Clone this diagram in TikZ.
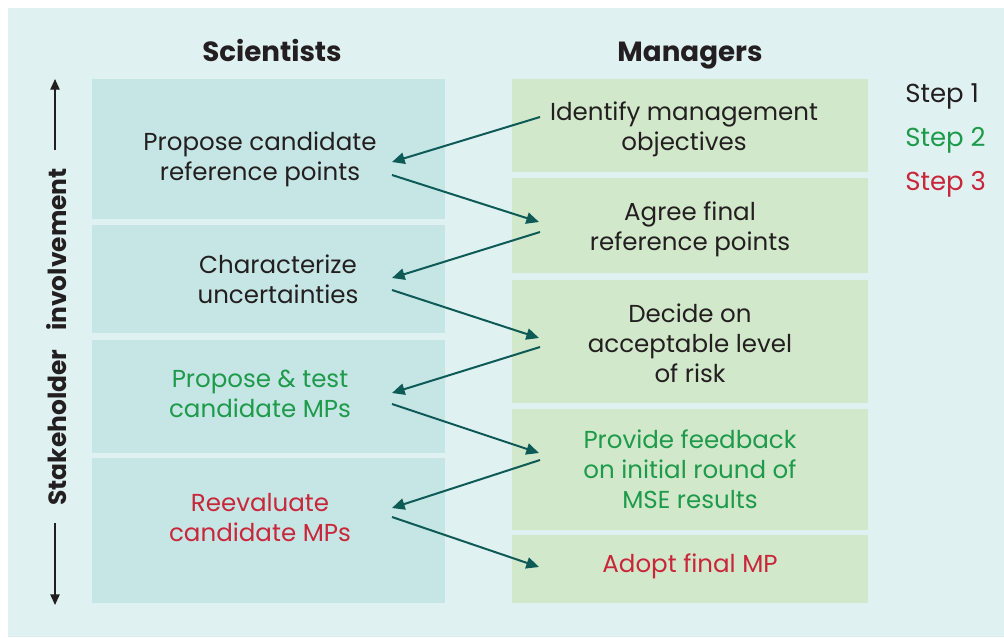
\documentclass[tikz,border=0pt]{standalone}
\usepackage{fontspec}
\setmainfont{Poppins}
\usetikzlibrary{arrows.meta}
\definecolor{panel}{HTML}{E0F1F1}
\definecolor{sbox}{HTML}{C5E6E4}
\definecolor{mbox}{HTML}{D2E8CB}
\definecolor{teal}{HTML}{0D5A57}
\definecolor{sgreen}{HTML}{1E9A4B}
\definecolor{sred}{HTML}{C9263A}
\definecolor{ink}{HTML}{231F20}
\tikzset{
  sbx/.style={fill=sbox, draw=none, minimum width=264.75pt, inner sep=0pt},
  mbx/.style={fill=mbox, draw=none, minimum width=267pt, inner sep=0pt},
  body/.style={text=ink, align=center, inner sep=0pt, font=\fontsize{18.4pt}{22.5pt}\selectfont},
  head/.style={text=ink, inner sep=0pt, font=\fontsize{20.8pt}{24pt}\selectfont\bfseries},
  flow/.style={draw=teal, line width=1.5pt, -{Triangle[length=9.5pt,width=8.5pt]}},
  axis/.style={draw=ink, line width=1pt, -{Triangle[length=8pt,width=7pt]}}
}
\begin{document}
\begin{tikzpicture}[x=0.75pt,y=-0.75pt]
\useasboundingbox (0,0) rectangle (1004,637);
\fill[white] (0,0) rectangle (1004,637);
\fill[panel] (8,8) rectangle (1004,637);
% headings
\node[head, anchor=base] (hs) at (272,61) {Scientists};
\node[head, anchor=base] (hm) at (690,61) {Managers};
% scientist boxes
\node[sbx, minimum height=105pt] (s1) at (268.5,149) {};
\node[sbx, minimum height=81pt] (s2) at (268.5,279) {};
\node[sbx, minimum height=84.75pt] (s3) at (268.5,396.5) {};
\node[sbx, minimum height=108.75pt] (s4) at (268.5,530.5) {};
% manager boxes
\node[mbx, minimum height=69.75pt] (m1) at (690,125.5) {};
\node[mbx, minimum height=71.25pt] (m2) at (690,225.5) {};
\node[mbx, minimum height=92.25pt] (m3) at (690,341.5) {};
\node[mbx, minimum height=90.75pt] (m4) at (690,469.5) {};
\node[mbx, minimum height=51pt] (m5) at (690,569) {};
% texts
\node[body] (ts1) at (260,159) {Propose candidate\\reference points};
\node[body] (ts2) at (278,279) {Characterize\\uncertainties};
\node[body, text=sgreen] (ts3) at (260,394) {Propose \& test\\candidate MPs};
\node[body, text=sred] (ts4) at (260,518) {Reevaluate\\candidate MPs};
\node[body] (tm1) at (684,129) {Identify management\\objectives};
\node[body] (tm2) at (690,229) {Agree final\\reference points};
\node[body] (tm3) at (690,343) {Decide on\\acceptable level\\of risk};
\node[body, text=sgreen] (tm4) at (690,469) {Provide feedback\\on initial round of\\MSE results};
\node[body, text=sred] (tm5) at (690,566) {Adopt final MP};
% steps
\node[body, anchor=west, font=\fontsize{19.5pt}{22.5pt}\selectfont] (st1) at (905,96) {Step 1};
\node[body, anchor=west, text=sgreen, font=\fontsize{19.5pt}{22.5pt}\selectfont] (st2) at (905,140) {Step 2};
\node[body, anchor=west, text=sred, font=\fontsize{19.5pt}{22.5pt}\selectfont] (st3) at (905,184) {Step 3};
% axis
\node[head, rotate=90, font=\fontsize{18.7pt}{20pt}\selectfont\bfseries] (ax) at (57,337) {Stakeholder\hspace{14pt}involvement};
\coordinate (axt1) at (55,150);
\coordinate (axt2) at (55,79);
\coordinate (axb1) at (55,523);
\coordinate (axb2) at (55,605);
\draw[axis] (axt1) -- (axt2);
\draw[axis] (axb1) -- (axb2);
% flow arrows
\coordinate (r1) at (540,117);  \coordinate (l1) at (392,162);
\coordinate (l2) at (392,175);  \coordinate (r2) at (539,222);
\coordinate (r3) at (540,232);  \coordinate (l3) at (392,278);
\coordinate (l4) at (392,290);  \coordinate (r4) at (539,338);
\coordinate (r5) at (540,347);  \coordinate (l5) at (392,393);
\coordinate (l6) at (392,404);  \coordinate (r6) at (539,453);
\coordinate (r7) at (540,460);  \coordinate (l7) at (392,508);
\coordinate (l8) at (392,517);  \coordinate (r8) at (539,567);
\draw[flow] (r1) -- (l1);
\draw[flow] (l2) -- (r2);
\draw[flow] (r3) -- (l3);
\draw[flow] (l4) -- (r4);
\draw[flow] (r5) -- (l5);
\draw[flow] (l6) -- (r6);
\draw[flow] (r7) -- (l7);
\draw[flow] (l8) -- (r8);
\end{tikzpicture}
\end{document}
